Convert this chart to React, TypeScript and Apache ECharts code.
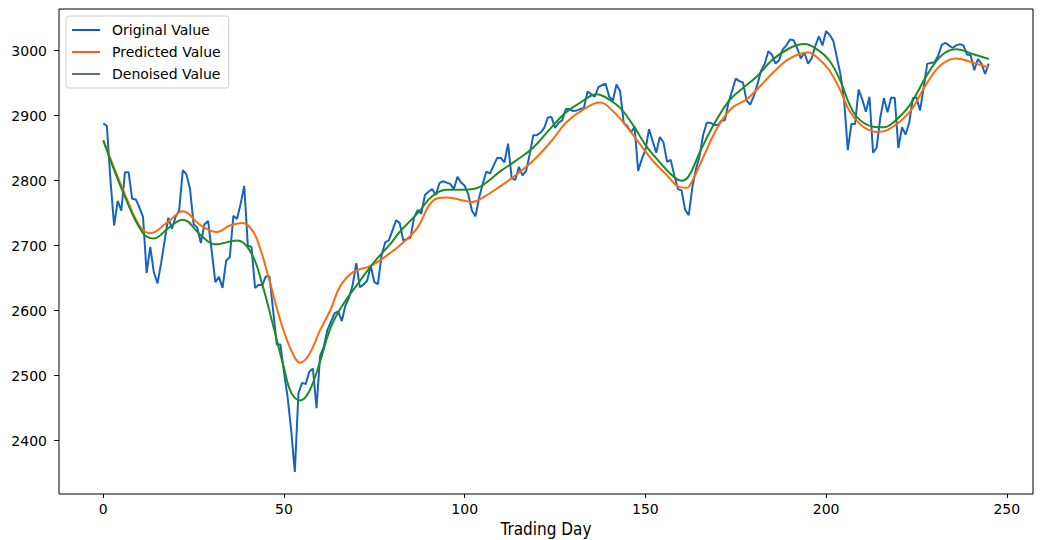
import React, { useEffect, useRef } from "react";
import * as echarts from "echarts";

const originalValues: number[] = [
  2888, 2884, 2800, 2731, 2769, 2754, 2813, 2813, 2772, 2771,
  2759, 2744, 2658, 2698, 2659, 2642, 2673, 2708, 2743, 2726,
  2744, 2754, 2816, 2810, 2787, 2733, 2728, 2704, 2733, 2738,
  2692, 2644, 2652, 2635, 2677, 2682, 2746, 2741, 2764, 2792,
  2700, 2698, 2635, 2640, 2639, 2653, 2652, 2600, 2548, 2548,
  2506, 2467, 2416, 2352, 2473, 2489, 2487, 2506, 2511, 2450,
  2531, 2544, 2570, 2583, 2596, 2599, 2584, 2608, 2620, 2639,
  2673, 2636, 2640, 2646, 2669, 2644, 2641, 2685, 2705, 2708,
  2723, 2739, 2735, 2708, 2710, 2712, 2743, 2755, 2749, 2778,
  2783, 2787, 2778, 2796, 2799, 2797, 2795, 2787, 2806, 2797,
  2792, 2779, 2754, 2745, 2774, 2795, 2814, 2811, 2823, 2835,
  2835, 2828, 2857, 2804, 2801, 2821, 2808, 2815, 2841, 2870,
  2870, 2874, 2881, 2897, 2898, 2881, 2889, 2893, 2910, 2910,
  2907, 2908, 2910, 2912, 2937, 2933, 2929, 2944, 2947, 2949,
  2929, 2923, 2948, 2938, 2889, 2884, 2874, 2883, 2815, 2833,
  2847, 2879, 2861, 2843, 2867, 2859, 2829, 2832, 2808, 2787,
  2785, 2755, 2747, 2790, 2818, 2838, 2871, 2889, 2889, 2886,
  2885, 2892, 2893, 2920, 2938, 2957, 2953, 2951, 2923, 2917,
  2930, 2948, 2969, 2979, 2999, 2994, 2980, 2985, 3002, 3008,
  3017, 3016, 3004, 2988, 2997, 2980, 2988, 3007, 3022, 3008,
  3030, 3024, 3015, 2989, 2963, 2923, 2847, 2887, 2887, 2940,
  2925, 2906, 2929, 2843, 2851, 2897, 2927, 2905, 2928, 2927,
  2850, 2882, 2871, 2889, 2927, 2928, 2908, 2943, 2980, 2981,
  2982, 2992, 3009, 3012, 3008, 3004, 3008, 3010, 3008, 2994,
  2993, 2970, 2987, 2980, 2964, 2980,
];

const predictedDays: number[] = [
  0, 6, 10, 13, 18, 22, 27, 31.5, 35, 38.5, 41.5, 43.5, 46, 49, 52, 54.5, 57, 60, 63, 65.5,
  69, 74, 78.5, 83, 87, 91, 95, 100, 102, 105, 110, 114, 119, 124, 128, 133, 137.5, 141, 145,
  148.5, 152, 156, 159.5, 161.5, 163, 166, 170, 174, 178, 181, 185.5, 190, 195, 198, 201, 204,
  206.5, 210, 214, 217, 223, 228, 232, 236, 241, 245,
];
const predictedValues: number[] = [
  2862, 2779, 2731, 2719, 2737, 2753, 2731, 2721, 2731, 2735, 2721, 2694, 2646, 2585, 2539, 2520, 2533, 2570, 2603, 2637,
  2659, 2669, 2685, 2705, 2728, 2768, 2774, 2769, 2767, 2774, 2792, 2808, 2831, 2861, 2889, 2910, 2920, 2907, 2882,
  2856, 2831, 2808, 2790, 2789, 2800, 2836, 2882, 2912, 2925, 2941, 2967, 2988, 2997, 2987, 2969, 2938,
  2907, 2884, 2875, 2878, 2905, 2951, 2979, 2988, 2981, 2974,
];

const denoisedDays: number[] = [
  0, 6, 11, 14, 18, 22, 27, 31, 37, 41, 44, 47, 50, 52, 54.5, 57, 60, 63, 66.5, 70,
  75, 79.5, 82, 87, 91, 95, 100, 104, 110, 114, 119, 124, 128, 132, 136.5, 139, 143, 147,
  150, 154, 158, 160, 162, 165, 169, 173, 176, 181, 185, 190, 194, 198, 201, 204, 206.5,
  209, 213, 216, 218.5, 223, 228, 232, 236, 241, 245,
];
const denoisedValues: number[] = [
  2862, 2775, 2719, 2711, 2727, 2740, 2716, 2702, 2708, 2688, 2640, 2577, 2512, 2474, 2462, 2476, 2522, 2575, 2611, 2638,
  2675, 2703, 2721, 2750, 2776, 2786, 2786, 2790, 2815, 2830, 2851, 2882, 2905, 2920, 2933, 2928, 2912, 2882,
  2855, 2828, 2805, 2800, 2807, 2843, 2887, 2922, 2938, 2961, 2985, 3004, 3010, 3000, 2984, 2953, 2917,
  2895, 2883, 2882, 2889, 2915, 2963, 2993, 3002, 2994, 2987,
];

const xTicks: number[] = [0, 50, 100, 150, 200, 250];
const yTicks: number[] = [2400, 2500, 2600, 2700, 2800, 2900, 3000];

export default function App() {
  const ref = useRef<HTMLDivElement>(null);
  useEffect(() => {
    if (!ref.current) return;
    const chart = echarts.init(ref.current, undefined, { renderer: "svg" });
    const pair = (xs: number[], ys: number[]) => xs.map((x, i) => [x, ys[i]]);
    const font = "DejaVu Sans";
    chart.setOption({
      animation: false,
      backgroundColor: "#ffffff",
      grid: {
        left: 59,
        right: 7,
        top: 9,
        bottom: 46,
        show: true,
        borderColor: "#000000",
        borderWidth: 1,
        containLabel: false,
        outerBoundsMode: "none",
      },
      legend: {
        orient: "vertical",
        left: 66,
        top: 16,
        padding: [6, 8, 6, 6],
        itemGap: 6,
        itemWidth: 28,
        itemHeight: 2,
        icon: "rect",
        backgroundColor: "rgba(255,255,255,0.8)",
        borderColor: "#cccccc",
        borderWidth: 1,
        borderRadius: 3,
        textStyle: {
          fontFamily: font,
          fontSize: 14,
          color: "#000000",
          lineHeight: 16,
          padding: [0, 0, 0, 7],
        },
        data: [
          { name: "Original Value", itemStyle: { color: "#1552d6" } },
          { name: "Predicted Value", itemStyle: { color: "#ff5a1f" } },
          { name: "Denoised Value", itemStyle: { color: "#5c7868" } },
        ],
      },
      xAxis: {
        type: "value",
        min: -12.25,
        max: 257.25,
        name: "Trading Day",
        nameLocation: "middle",
        nameGap: 25,
        nameTextStyle: {
          fontFamily: "'DejaVu Sans Condensed', 'Liberation Sans Narrow', 'Roboto Condensed', 'DejaVu Sans', sans-serif",
          fontSize: 17,
          color: "#000000",
          verticalAlign: "top",
        },
        splitLine: { show: false },
        axisLine: { show: false, onZero: false },
        axisTick: {
          show: true,
          length: 4,
          lineStyle: { color: "#000000" },
          customValues: xTicks,
        },
        axisLabel: {
          fontFamily: font,
          fontSize: 14,
          color: "#000000",
          margin: 8,
          customValues: xTicks,
        },
      },
      yAxis: {
        type: "value",
        min: 2318,
        max: 3064,
        splitLine: { show: false },
        axisLine: { show: false, onZero: false },
        axisTick: {
          show: true,
          length: 5,
          lineStyle: { color: "#000000" },
          customValues: yTicks,
        },
        axisLabel: {
          fontFamily: font,
          fontSize: 14,
          color: "#000000",
          margin: 12,
          customValues: yTicks,
          formatter: (v: number) => String(v),
        },
      },
      series: [
        {
          name: "Original Value",
          type: "line",
          data: originalValues.map((v, i) => [i, v]),
          showSymbol: false,
          lineStyle: { color: "#1565c0", width: 2 },
          itemStyle: { color: "#1565c0" },
          z: 2,
        },
        {
          name: "Predicted Value",
          type: "line",
          data: pair(predictedDays, predictedValues),
          showSymbol: false,
          smooth: 0.4,
          lineStyle: { color: "#ff6a0d", width: 2 },
          itemStyle: { color: "#ff6a0d" },
          z: 3,
        },
        {
          name: "Denoised Value",
          type: "line",
          data: pair(denoisedDays, denoisedValues),
          showSymbol: false,
          smooth: 0.4,
          lineStyle: { color: "#1f8c1f", width: 2 },
          itemStyle: { color: "#1f8c1f" },
          z: 4,
        },
      ],
    });
    return () => chart.dispose();
  }, []);
  return (
    <div
      ref={ref}
      style={{ position: "fixed", left: 0, top: 0, width: 1040, height: 540 }}
    />
  );
}
